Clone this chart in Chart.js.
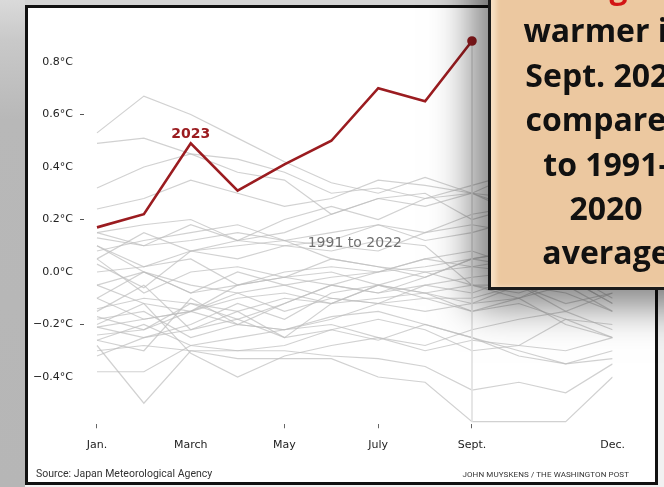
<!DOCTYPE html>
<html>
<head>
<meta charset="utf-8">
<script src="https://cdn.jsdelivr.net/npm/chart.js"></script>
<style>
  body { margin:0; width:664px; height:487px; overflow:hidden; position:relative; background:#f1f1f1; }
  #leftside { position:absolute; left:0; top:0; width:25px; height:487px; background:linear-gradient(to bottom,#dadada 0,#c9c9c9 40px,#b8b8b8 120px,#b6b6b6 100%); }
  #topside { position:absolute; left:25px; top:0; width:640px; height:5px; background:#d4d4d4; }
  #panel { position:absolute; left:25px; top:5px; width:627px; height:474px; border:3px solid #111; background:#fff; }
  #panel canvas { position:absolute; left:0; top:0; }
  .foot { position:absolute; font-family:Roboto, sans-serif; color:#333; white-space:nowrap; }
  #source { left:8px; top:459px; font-size:10.5px; }
  #credit { right:26px; top:462px; font-size:8px; letter-spacing:0.1px; }
  #note { position:absolute; left:488px; top:-60px; width:230px; height:323px; border:3px solid #1b1b1b;
          background:#ecc8a0; box-shadow:-16px 16px 38px rgba(0,0,0,0.5), inset 5px 0 5px rgba(255,240,220,0.6);
          font-family:'Open Sans', sans-serif; font-weight:bold; font-size:32px; line-height:44.4px;
          text-align:center; color:#111; padding-top:21px; box-sizing:content-box; }
  #note .red { color:#d21414; }
</style>
</head>
<body>
<div id="leftside"></div>
<div id="topside"></div>
<div id="panel">
  <canvas id="temps" width="627" height="474"></canvas>
  <div class="foot" id="source">Source: Japan Meteorological Agency</div>
  <div class="foot" id="credit">JOHN MUYSKENS / THE WASHINGTON POST</div>
</div>
<div id="note">
  <div class="red">0.5 degrees</div>
  <div>warmer in</div>
  <div>Sept. 2023</div>
  <div>compared</div>
  <div>to 1991-</div>
  <div>2020</div>
  <div>average</div>
</div>
<script>
// monthly anomalies, °C
const months = ['Jan.', 'Feb.', 'March', 'April', 'May', 'June', 'July', 'Aug.', 'Sept.', 'Oct.', 'Nov.', 'Dec.'];
const shownMonths = ['Jan.', 'March', 'May', 'July', 'Sept.', 'Dec.'];
const tickedMonths = ['Jan.', 'May', 'July', 'Sept.'];
const dashedTicks = [0.6, 0.2, -0.2];

const t2023 = [0.17, 0.22, 0.49, 0.31, 0.41, 0.50, 0.70, 0.65, 0.88];

const t1991 = [-0.18, -0.15, -0.25, -0.20, -0.22, -0.17, -0.15, -0.20, -0.25, -0.30, -0.35, -0.30];
const t1992 = [-0.30, -0.28, -0.30, -0.33, -0.33, -0.33, -0.40, -0.42, -0.57, -0.57, -0.57, -0.40];
const t1993 = [-0.28, -0.50, -0.30, -0.30, -0.30, -0.32, -0.33, -0.36, -0.45, -0.42, -0.46, -0.35];
const t1994 = [-0.38, -0.38, -0.28, -0.25, -0.22, -0.20, -0.25, -0.28, -0.22, -0.18, -0.15, -0.22];
const t1995 = [-0.15, -0.05, -0.22, -0.18, -0.25, -0.12, -0.10, -0.08, -0.15, -0.10, -0.20, -0.25];
const t1996 = [-0.26, -0.20, -0.28, -0.30, -0.28, -0.22, -0.18, -0.22, -0.30, -0.28, -0.18, -0.25];
const t1997 = [-0.21, -0.18, -0.15, -0.20, -0.12, -0.05, -0.08, -0.02, 0.05, 0.02, 0.00, -0.05];
const t1998 = [0.05, 0.15, 0.08, 0.12, 0.10, 0.08, 0.12, 0.10, -0.05, -0.05, -0.15, -0.08];
const t1999 = [-0.20, -0.12, -0.31, -0.40, -0.32, -0.28, -0.25, -0.30, -0.26, -0.28, -0.30, -0.25];
const t2000 = [-0.32, -0.25, -0.22, -0.15, -0.25, -0.22, -0.26, -0.20, -0.25, -0.32, -0.35, -0.33];
const t2001 = [-0.17, -0.22, -0.12, -0.15, -0.10, -0.12, -0.05, -0.08, -0.12, -0.10, -0.02, -0.12];
const t2002 = [0.00, 0.02, 0.05, -0.05, -0.02, 0.00, -0.05, -0.08, -0.05, -0.10, -0.05, -0.15];
const t2003 = [-0.05, -0.12, -0.15, -0.10, -0.08, -0.12, -0.05, 0.00, 0.02, 0.05, -0.02, 0.05];
const t2004 = [-0.10, 0.00, -0.05, -0.08, -0.15, -0.10, -0.12, -0.05, -0.08, -0.02, 0.00, -0.10];
const t2005 = [0.05, -0.08, 0.00, 0.02, -0.02, 0.05, 0.02, -0.02, 0.05, 0.08, 0.00, -0.05];
const t2006 = [-0.14, -0.10, -0.12, -0.18, -0.12, -0.05, -0.08, -0.05, -0.02, 0.00, 0.02, 0.05];
const t2007 = [0.10, 0.00, -0.08, 0.00, -0.05, -0.10, -0.12, -0.10, -0.15, -0.12, -0.18, -0.20];
const t2008 = [-0.26, -0.30, -0.10, -0.20, -0.22, -0.18, -0.12, -0.15, -0.12, -0.05, -0.08, -0.15];
const t2009 = [-0.10, -0.18, -0.15, -0.08, -0.05, -0.02, 0.00, 0.05, 0.02, 0.00, 0.05, 0.00];
const t2010 = [0.15, 0.10, 0.12, 0.15, 0.12, 0.05, 0.02, 0.00, -0.05, -0.08, -0.02, -0.12];
const t2011 = [-0.21, -0.25, -0.20, -0.12, -0.18, -0.08, -0.05, -0.10, -0.10, -0.05, -0.12, -0.08];
const t2012 = [-0.24, -0.22, -0.15, -0.05, -0.02, -0.05, 0.00, 0.02, 0.05, 0.08, 0.05, -0.02];
const t2013 = [-0.05, 0.00, -0.08, -0.05, 0.00, 0.02, 0.00, 0.05, 0.08, 0.02, 0.10, 0.05];
const t2014 = [0.03, -0.06, 0.08, 0.10, 0.12, 0.10, 0.08, 0.15, 0.18, 0.15, 0.12, 0.18];
const t2015 = [0.13, 0.10, 0.18, 0.12, 0.20, 0.25, 0.20, 0.28, 0.33, 0.38, 0.35, 0.40];
const t2016 = [0.53, 0.67, 0.60, 0.51, 0.42, 0.34, 0.30, 0.36, 0.30, 0.28, 0.25, 0.20];
const t2017 = [0.32, 0.40, 0.45, 0.38, 0.35, 0.22, 0.28, 0.30, 0.20, 0.25, 0.22, 0.18];
const t2018 = [0.08, 0.12, 0.15, 0.18, 0.12, 0.15, 0.18, 0.12, 0.15, 0.20, 0.10, 0.15];
const t2019 = [0.24, 0.28, 0.35, 0.30, 0.25, 0.28, 0.35, 0.33, 0.30, 0.38, 0.35, 0.32];
const t2020 = [0.49, 0.51, 0.45, 0.43, 0.38, 0.30, 0.32, 0.28, 0.30, 0.24, 0.36, 0.08];
const t2021 = [0.10, 0.02, 0.08, 0.05, 0.10, 0.12, 0.18, 0.15, 0.22, 0.25, 0.20, 0.12];
const t2022 = [0.15, 0.18, 0.20, 0.12, 0.15, 0.22, 0.28, 0.25, 0.30, 0.22, 0.05, 0.18];

const pastYears = [t1991, t1992, t1993, t1994, t1995, t1996, t1997, t1998, t1999, t2000, t2001,
  t2002, t2003, t2004, t2005, t2006, t2007, t2008, t2009, t2010, t2011, t2012, t2013, t2014,
  t2015, t2016, t2017, t2018, t2019, t2020, t2021, t2022];

document.addEventListener('DOMContentLoaded', function(){
    const canva = document.getElementById('temps');
    const ctx = canva.getContext('2d');
    const toPoints = arr => arr.map((v, i) => ({x: i, y: v}));
    const sept = months.indexOf('Sept.');
    const septLow = Math.min(...pastYears.map(a => a[sept]));
    const near = (a, b) => Math.abs(a - b) < 1e-6;

    const datasets = [{
        label: '2023',
        data: toPoints(t2023),
        borderColor: '#9b1c20',
        backgroundColor: '#9b1c20',
        borderWidth: 2.6,
        borderJoinStyle: 'miter',
        pointRadius: t2023.map((v, i) => i === t2023.length - 1 ? 3.5 : 0),
        order: 0
    }, {
        label: 'sept',
        data: [{x: sept, y: t2023[sept]}, {x: sept, y: septLow}],
        borderColor: '#e2e2e2',
        borderWidth: 1,
        pointRadius: 0,
        order: 1
    }];
    pastYears.forEach(function(arr, i){
        datasets.push({
            label: String(1991 + i),
            data: toPoints(arr),
            borderColor: 'rgba(190,190,190,0.7)',
            borderWidth: 1.2,
            pointRadius: 0,
            order: 2
        });
    });

    const labelsPlugin = {
        id: 'labels',
        afterDatasetsDraw(chart) {
            const c = chart.ctx;
            const xs = chart.scales.x, ys = chart.scales.y;
            c.save();
            c.textAlign = 'center';
            c.textBaseline = 'alphabetic';
            c.font = 'bold 14px "DejaVu Sans"';
            c.fillStyle = '#9b1c20';
            c.fillText('2023', xs.getPixelForValue(2), ys.getPixelForValue(t2023[2]) - 5);
            c.font = '14px "DejaVu Sans"';
            c.fillStyle = '#707070';
            c.fillText('1991 to 2022', xs.getPixelForValue(5.5), ys.getPixelForValue(0.095));
            c.restore();
        }
    };

    new Chart(ctx, {
        type: 'line',
        data: { datasets: datasets },
        options: {
            responsive: false,
            animation: false,
            layout: { padding: { left: 0, top: 27.75, right: 42.4, bottom: 0 } },
            plugins: { legend: { display: false }, tooltip: { enabled: false } },
            scales: {
                x: {
                    type: 'linear',
                    min: -0.277,
                    max: 11,
                    afterFit: s => { s.height = 57.75; },
                    border: { display: false },
                    grid: {
                        drawOnChartArea: false,
                        tickLength: 4,
                        tickColor: c => tickedMonths.includes(months[c.tick.value]) ? '#666' : 'rgba(0,0,0,0)'
                    },
                    ticks: {
                        stepSize: 1,
                        includeBounds: false,
                        autoSkip: false,
                        maxRotation: 0,
                        padding: 10,
                        color: '#222',
                        font: { family: 'DejaVu Sans', size: 11 },
                        callback: v => shownMonths.includes(months[v]) ? months[v] : ''
                    }
                },
                y: {
                    min: -0.58,
                    max: 0.9,
                    afterFit: s => { s.width = 56; },
                    border: { display: false },
                    grid: {
                        drawOnChartArea: false,
                        tickLength: 4,
                        tickColor: c => dashedTicks.some(d => near(d, c.tick.value)) ? '#555' : 'rgba(0,0,0,0)'
                    },
                    ticks: {
                        stepSize: 0.2,
                        includeBounds: false,
                        padding: 7,
                        color: '#222',
                        font: { family: 'DejaVu Sans', size: 11 },
                        callback: v => v.toFixed(1).replace('-', '\u2212') + '°C'
                    }
                }
            }
        },
        plugins: [labelsPlugin]
    });
});
</script>
</body>
</html>
